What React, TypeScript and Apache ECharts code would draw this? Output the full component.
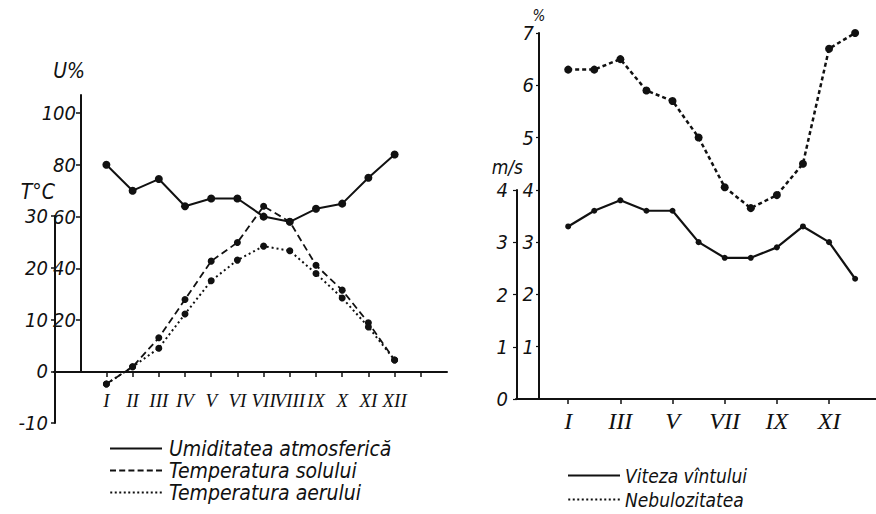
import React, { useEffect, useRef } from "react";
import * as echarts from "echarts";

const MONTHS = [1, 2, 3, 4, 5, 6, 7, 8, 9, 10, 11, 12];
const ROMAN = ["I", "II", "III", "IV", "V", "VI", "VII", "VIII", "IX", "X", "XI", "XII"];
const humidity = [80, 70, 74.5, 64, 67, 67, 60, 58, 63, 65, 75, 84];
const soilTemp = [-2.3, 1, 6.6, 14, 21.4, 25, 32, 29, 20.6, 15.8, 9.5, 2.3];
const airTemp = [-2.3, 1, 4.6, 11.2, 17.6, 21.6, 24.3, 23.4, 19, 14.3, 8.7, 2.3];
const windSpeed = [3.3, 3.6, 3.8, 3.6, 3.6, 3.0, 2.7, 2.7, 2.9, 3.3, 3.0, 2.3];
const cloudiness = [6.3, 6.3, 6.5, 5.9, 5.7, 5.0, 4.05, 3.65, 3.9, 4.5, 6.7, 7.0];
const uTicks = [20, 40, 60, 80, 100];
const tTicks = [-10, 0, 10, 20, 30];
const leftXTicks = [1, 2, 3, 4, 5, 6, 7, 8, 9, 10, 11, 12, 13];
const rightXTicks = [1, 3, 5, 7, 9, 11];
const pctTicks = [1, 2, 3, 4, 5, 6, 7];
const msTicks = [0, 1, 2, 3, 4];

const NUM_FONT = "'DejaVu Sans Condensed', 'DejaVu Sans', sans-serif";
const ROMAN_FONT = "'Liberation Serif', 'DejaVu Serif', serif";
const INK = "#111";

function dashPath(w: number, dash: number, gap: number, h: number) {
  let d = "";
  for (let x = 0; x < w; x += dash + gap) {
    const dw = Math.min(dash, w - x);
    d += `M${x} 0h${dw}v${h}h${-dw}z`;
  }
  return "path://" + d;
}

const SOLID_ICON = "path://M0 0h52v2h-52z";
const DASH_ICON = dashPath(52, 6, 3.2, 2);
const DOT_ICON = dashPath(52, 2, 2.5, 2);

const pairs = (vals: number[]) => MONTHS.map((m, i) => [m, vals[i]]);

export default function App() {
  const ref = useRef<HTMLDivElement>(null);
  useEffect(() => {
    if (!ref.current) return;
    const chart = echarts.init(ref.current, undefined, { renderer: "svg" });
    const numLabel = (margin: number) => ({
      fontFamily: NUM_FONT,
      fontStyle: "italic" as const,
      fontSize: 20,
      color: INK,
      margin,
    });
    const axisLine = { show: true, lineStyle: { color: INK, width: 2 } };
    const hiddenX = (gridIndex: number) => ({ type: "value", gridIndex, min: 0, max: 1, show: false });
    const option: any = {
      animation: false,
      backgroundColor: "#fff",
      grid: [
        { left: 54, top: 113, width: 393, height: 259 },
        { left: 81, top: 95, width: 10, height: 277 },
        { left: 55, top: 216, width: 10, height: 207 },
        { left: 516, top: 33, width: 360, height: 366 },
        { left: 539, top: 33, width: 10, height: 366 },
        { left: 517, top: 190, width: 10, height: 209 },
      ],
      xAxis: [
        {
          type: "value",
          gridIndex: 0,
          min: -1,
          max: 14,
          interval: 1,
          splitLine: { show: false },
          axisLine: { show: true, onZero: false, lineStyle: { color: INK, width: 2 } },
          axisTick: { show: true, length: 5, customValues: leftXTicks, lineStyle: { color: INK, width: 1.5 } },
          axisLabel: {
            customValues: MONTHS,
            formatter: (v: number) => ROMAN[v - 1] ?? "",
            fontFamily: ROMAN_FONT,
            fontStyle: "italic",
            fontSize: 19,
            color: INK,
            margin: 19,
          },
        },
        hiddenX(1),
        hiddenX(2),
        {
          type: "value",
          gridIndex: 3,
          min: -1,
          max: 12.8,
          interval: 1,
          splitLine: { show: false },
          axisLine: { show: true, onZero: false, lineStyle: { color: INK, width: 2 } },
          axisTick: { show: true, length: 5, customValues: rightXTicks, lineStyle: { color: INK, width: 1.5 } },
          axisLabel: {
            customValues: rightXTicks,
            formatter: (v: number) => ROMAN[v - 1] ?? "",
            fontFamily: ROMAN_FONT,
            fontStyle: "italic",
            fontSize: 24,
            color: INK,
            margin: 10,
          },
        },
        hiddenX(4),
        hiddenX(5),
      ],
      yAxis: [
        { type: "value", gridIndex: 0, min: 0, max: 100, show: false, splitLine: { show: false } },
        { type: "value", gridIndex: 0, min: 0, max: 50, show: false, splitLine: { show: false } },
        {
          type: "value",
          gridIndex: 1,
          min: 0,
          max: 107,
          interval: 20,
          name: "U%",
          nameLocation: "end",
          nameGap: 14,
          nameTextStyle: { fontFamily: NUM_FONT, fontStyle: "italic", fontSize: 21, color: INK, align: "right", padding: [0, -4, 0, 0] },
          splitLine: { show: false },
          axisLine,
          axisTick: { show: true, length: 5, customValues: uTicks, lineStyle: { color: INK, width: 1.5 } },
          axisLabel: { ...numLabel(5), customValues: uTicks },
        },
        {
          type: "value",
          gridIndex: 2,
          min: -10,
          max: 30,
          interval: 10,
          name: "T°C",
          nameLocation: "end",
          nameGap: 14,
          nameTextStyle: { fontFamily: NUM_FONT, fontStyle: "italic", fontSize: 21, color: INK, align: "right", padding: [0, 0, 0, 0] },
          splitLine: { show: false },
          axisLine,
          axisTick: { show: true, length: 4, customValues: tTicks, lineStyle: { color: INK, width: 1.5 } },
          axisLabel: { ...numLabel(7), customValues: tTicks },
        },
        { type: "value", gridIndex: 3, min: 0, max: 7, show: false, splitLine: { show: false } },
        {
          type: "value",
          gridIndex: 4,
          min: 0,
          max: 7,
          interval: 1,
          name: "%",
          nameLocation: "end",
          nameGap: 8,
          nameTextStyle: { fontFamily: NUM_FONT, fontStyle: "italic", fontSize: 15, color: INK },
          splitLine: { show: false },
          axisLine,
          axisTick: { show: true, length: 3, customValues: pctTicks, lineStyle: { color: INK, width: 1.2 } },
          axisLabel: { ...numLabel(5), customValues: pctTicks },
        },
        {
          type: "value",
          gridIndex: 5,
          min: 0,
          max: 4,
          interval: 1,
          name: "m/s",
          nameLocation: "end",
          nameGap: 14,
          nameTextStyle: { fontFamily: NUM_FONT, fontStyle: "italic", fontSize: 19, color: INK, align: "right", padding: [0, -6, 0, 0] },
          splitLine: { show: false },
          axisLine,
          axisTick: { show: true, length: 4, customValues: msTicks, lineStyle: { color: INK, width: 1.2 } },
          axisLabel: { ...numLabel(9), customValues: msTicks },
        },
      ],
      legend: [
        {
          orient: "vertical",
          left: 110,
          top: 438,
          padding: 0,
          itemWidth: 52,
          itemHeight: 2,
          itemGap: 1,
          selectedMode: false,
          itemStyle: { color: INK },
          textStyle: { fontFamily: NUM_FONT, fontStyle: "italic", fontSize: 21, color: INK, padding: [0, 0, 0, 2] },
          data: [
            { name: "Umiditatea atmosferică", icon: SOLID_ICON },
            { name: "Temperatura solului", icon: DASH_ICON },
            { name: "Temperatura aerului", icon: DOT_ICON },
          ],
        },
        {
          orient: "vertical",
          left: 568,
          top: 466,
          padding: 0,
          itemWidth: 52,
          itemHeight: 2,
          itemGap: 5,
          selectedMode: false,
          itemStyle: { color: INK },
          textStyle: { fontFamily: NUM_FONT, fontStyle: "italic", fontSize: 19, color: INK },
          data: [
            { name: "Viteza vîntului", icon: SOLID_ICON },
            { name: "Nebulozitatea", icon: DOT_ICON },
          ],
        },
      ],
      series: [
        {
          name: "Umiditatea atmosferică",
          type: "line",
          xAxisIndex: 0,
          yAxisIndex: 0,
          clip: false,
          data: pairs(humidity),
          symbol: "circle",
          symbolSize: 8,
          itemStyle: { color: INK },
          lineStyle: { color: INK, width: 2 },
        },
        {
          name: "Temperatura solului",
          type: "line",
          xAxisIndex: 0,
          yAxisIndex: 1,
          clip: false,
          data: pairs(soilTemp),
          symbol: "circle",
          symbolSize: 7,
          itemStyle: { color: INK },
          lineStyle: { color: INK, width: 1.8, type: [7, 4] },
        },
        {
          name: "Temperatura aerului",
          type: "line",
          xAxisIndex: 0,
          yAxisIndex: 1,
          clip: false,
          data: pairs(airTemp),
          symbol: "circle",
          symbolSize: 7,
          itemStyle: { color: INK },
          lineStyle: { color: INK, width: 2, type: [2, 3] },
        },
        {
          name: "Viteza vîntului",
          type: "line",
          xAxisIndex: 3,
          yAxisIndex: 4,
          data: pairs(windSpeed),
          symbol: "circle",
          symbolSize: 6,
          itemStyle: { color: INK },
          lineStyle: { color: INK, width: 2.2 },
        },
        {
          name: "Nebulozitatea",
          type: "line",
          xAxisIndex: 3,
          yAxisIndex: 4,
          clip: false,
          data: pairs(cloudiness),
          symbol: "circle",
          symbolSize: 8,
          itemStyle: { color: INK },
          lineStyle: { color: INK, width: 2.5, type: [4, 3] },
        },
      ],
    };
    chart.setOption(option);
    return () => chart.dispose();
  }, []);
  return (
    <div
      ref={ref}
      style={{ position: "absolute", left: 0, top: 0, width: 876, height: 514, background: "#fff" }}
    />
  );
}
